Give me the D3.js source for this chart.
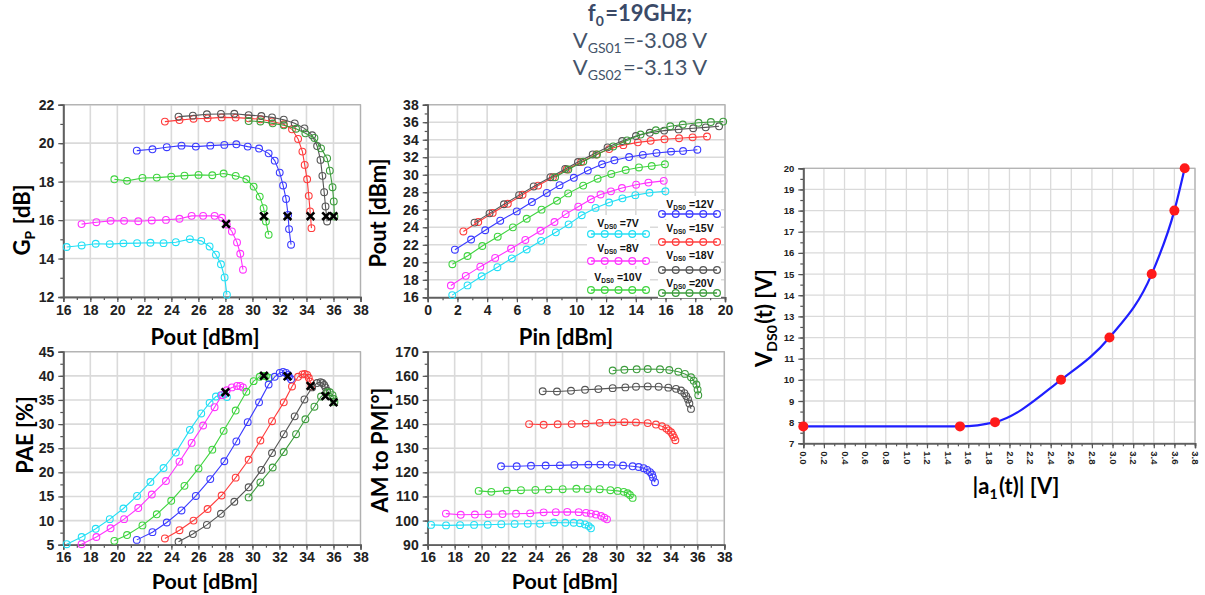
<!DOCTYPE html>
<html><head><meta charset="utf-8">
<script src="https://cdn.jsdelivr.net/npm/d3@7"></script>
<style>body{margin:0;background:#fff}svg{display:block}</style>
</head><body>
<script>
// ---------- data ----------
const vdsLabels = ["7V","8V","10V","12V","15V","18V","20V"];
const colors = ["#22dff5","#ff33ff","#3fd43f","#3b3bff","#ff3c3c","#555555","#3d9c3d"];

const pout = [
 [16.25,17.36,18.4,19.44,20.45,21.46,22.45,23.42,24.33,25.37,26.21,26.83,27.3,27.67,27.94,28.11],
 [17.35,18.45,19.5,20.5,21.55,22.55,23.6,24.6,25.5,26.35,27.2,27.75,28.1,28.48,28.86,29.1,29.3],
 [19.78,20.72,21.86,22.92,23.99,24.97,26.01,27.03,27.87,28.76,29.55,30.09,30.54,30.83,31.0,31.2],
 [21.44,22.6,23.66,24.75,25.81,26.88,27.92,28.81,29.65,30.49,31.2,31.65,32.02,32.27,32.49,32.64,32.71,32.86],
 [23.52,24.6,25.64,26.68,27.72,28.76,29.72,30.59,31.45,32.32,32.93,33.38,33.7,33.87,34.05,34.17,34.27,34.37],
 [24.53,25.59,26.63,27.67,28.66,29.72,30.66,31.45,32.32,33.13,33.85,34.42,34.79,35.04,35.18,35.31,35.41,35.53],
 [29.72,30.59,31.5,32.32,33.23,33.92,34.59,35.08,35.53,35.73,35.93,36.02,36.07]
];
const gp = [
 [14.6,14.68,14.77,14.75,14.79,14.8,14.82,14.8,14.85,15.01,14.92,14.63,14.2,13.7,13.02,12.12],
 [15.79,15.89,15.96,15.96,15.94,15.98,16.01,16.07,16.22,16.22,16.22,16.12,15.77,15.41,14.84,14.25,13.42],
 [18.12,18.04,18.19,18.21,18.26,18.31,18.35,18.33,18.42,18.3,18.12,17.74,17.22,16.62,15.93,15.24],
 [19.61,19.68,19.79,19.87,19.82,19.87,19.91,19.94,19.82,19.72,19.47,19.09,18.47,17.8,17.1,16.27,15.53,14.72],
 [21.12,21.2,21.27,21.29,21.34,21.33,21.29,21.24,21.13,20.98,20.72,20.22,19.56,18.87,18.12,17.26,16.45,15.58],
 [21.38,21.43,21.5,21.52,21.53,21.46,21.41,21.34,21.22,21.03,20.77,20.41,19.85,19.13,18.3,17.45,16.71,15.93],
 [21.15,21.13,21.03,20.93,20.75,20.51,20.27,19.73,19.21,18.57,17.71,16.97,16.19]
];
const pae = [
 [5.1,6.6,8.3,10.3,12.5,15.1,18.0,20.9,24.1,28.8,32.2,34.4,35.7,36.0,36.2,35.6],
 [5.1,6.6,8.4,10.3,12.6,15.4,18.2,22.2,26.1,29.7,33.5,36.0,37.0,37.6,37.9,37.9,37.6],
 [5.8,7.0,9.0,11.3,14.1,17.2,20.8,24.7,28.6,32.8,36.7,38.9,39.8,40.0,39.9,39.6],
 [6.0,7.6,9.6,12.1,15.1,18.6,22.3,26.4,30.4,34.5,38.2,39.8,40.6,40.8,40.6,40.2,39.8,39.3],
 [6.3,8.0,10.0,12.4,15.2,18.9,22.6,26.6,30.6,34.5,37.8,39.8,40.3,40.4,40.2,39.6,38.8,37.8],
 [5.6,7.2,9.1,11.4,13.9,16.9,20.5,24.0,27.9,31.6,35.1,37.6,38.5,38.7,38.5,38.1,37.6,36.9],
 [14.8,17.9,21.0,24.2,27.9,31.0,33.6,35.7,36.6,36.6,36.0,35.2,34.6]
];
const ampm = [
 [98.2,98.0,98.1,98.2,98.3,98.5,98.6,98.7,98.7,99.2,99.1,99.1,98.9,98.4,97.7,96.8],
 [102.9,102.4,102.5,102.6,102.7,102.8,103.0,103.4,103.5,103.6,103.5,103.2,102.9,102.5,101.9,101.2,100.5],
 [112.3,111.9,112.4,112.6,112.7,112.9,113.0,113.2,113.1,113.0,112.6,112.3,111.9,111.3,110.6,109.4],
 [122.5,122.5,122.7,122.8,122.9,123.1,123.2,123.2,123.1,122.8,122.5,122.2,121.7,121.0,120.1,119.1,117.9,115.9],
 [140.0,139.7,139.9,140.0,140.2,140.5,140.7,140.8,140.7,140.4,139.8,139.1,138.2,137.4,136.6,135.6,134.5,133.3],
 [153.6,153.5,153.8,154.2,154.5,154.9,155.2,155.5,155.6,155.5,155.1,154.6,153.9,152.8,151.6,150.2,148.5,146.3],
 [162.2,162.5,162.7,162.8,162.7,162.4,161.7,160.8,159.4,158.0,156.4,154.3,152.0]
];
const pin = [
 [1.65,2.68,3.63,4.69,5.66,6.66,7.63,8.62,9.48,10.36,11.29,12.2,13.1,13.97,14.92,15.99],
 [1.56,2.56,3.54,4.54,5.61,6.57,7.59,8.53,9.28,10.13,10.98,11.63,12.33,13.07,14.02,14.85,15.88],
 [1.66,2.68,3.67,4.71,5.73,6.66,7.66,8.7,9.45,10.46,11.43,12.35,13.32,14.21,15.07,15.96],
 [1.83,2.92,3.87,4.88,5.99,7.01,8.01,8.87,9.83,10.77,11.73,12.56,13.55,14.47,15.39,16.37,17.18,18.14],
 [2.4,3.4,4.37,5.39,6.38,7.43,8.43,9.35,10.32,11.34,12.21,13.16,14.14,15.0,15.93,16.91,17.82,18.79],
 [3.15,4.16,5.13,6.15,7.13,8.26,9.25,10.11,11.1,12.1,13.08,14.01,14.94,15.91,16.88,17.86,18.7,19.6],
 [8.57,9.46,10.47,11.39,12.48,13.41,14.32,15.35,16.32,17.16,18.22,19.05,19.88]
];
// "x" markers (optimum points)
const gpMarkX = [28.05,30.85,32.6,34.3,35.45,36.0];
const gpMarkY = [15.8,16.2,16.2,16.2,16.2,16.2];
const paeMarkX = [28.0,30.85,32.6,34.3,35.4,36.0];
const paeMarkY = [36.6,40.0,39.9,37.9,35.8,34.5];
// drain bias law
const a1Vals = [0.0,1.52,1.86,2.5,2.97,3.38,3.6,3.7];
const vdsVals = [7.8,7.8,8.0,10,12,15,18,20];

// tick values
const poutTicks = d3.range(16,39,2);
const pinTicks = d3.range(0,21,2);
const gpTicks = d3.range(12,23,2);
const poutYTicks = d3.range(16,39,2);
const paeTicks = d3.range(5,46,5);
const ampmTicks = d3.range(90,171,10);
const a1Ticks = d3.range(0,3.81,0.2);
const vdsTicks = d3.range(7,21,1);

// ---------- drawing ----------
const svg = d3.select("body").append("svg").attr("width",1205).attr("height",595)
  .style("font-family","'Liberation Sans',Arial,sans-serif");
const TF = "Lato, 'Open Sans', sans-serif";

function panel(o){
  const x = d3.scaleLinear().domain(o.xd).range(o.xr);
  const y = d3.scaleLinear().domain(o.yd).range(o.yr);
  const g = svg.append("g");
  const [x0,x1] = o.xr, [yb,yt] = o.yr;
  g.append("rect").attr("x",x0).attr("y",yt).attr("width",x1-x0).attr("height",yb-yt).attr("fill","#fff");
  g.selectAll(null).data(o.xgrid).join("line")
    .attr("x1",d=>x(d)).attr("x2",d=>x(d)).attr("y1",yb).attr("y2",yt)
    .attr("stroke","#dadada").attr("stroke-width",o.gw||1.6);
  g.selectAll(null).data(o.ygrid).join("line")
    .attr("y1",d=>y(d)).attr("y2",d=>y(d)).attr("x1",x0).attr("x2",x1)
    .attr("stroke","#dadada").attr("stroke-width",o.gw||1.6);
  g.append("rect").attr("x",x0).attr("y",yt).attr("width",x1-x0).attr("height",yb-yt)
    .attr("fill","none").attr("stroke","#b0b0b0").attr("stroke-width",1.2);
  const mx = g.append("g").attr("transform",`translate(0,${yb})`)
    .call(d3.axisBottom(x).tickValues(o.xminor).tickSize(3).tickFormat(""));
  const my = g.append("g").attr("transform",`translate(${x0},0)`)
    .call(d3.axisLeft(y).tickValues(o.yminor).tickSize(3).tickFormat(""));
  const ax = g.append("g").attr("transform",`translate(0,${yb})`)
    .call(d3.axisBottom(x).tickValues(o.xticks).tickSize(5).tickPadding(o.xpad||3).tickFormat(o.xfmt||d3.format("d")));
  const ay = g.append("g").attr("transform",`translate(${x0},0)`)
    .call(d3.axisLeft(y).tickValues(o.yticks).tickSize(5).tickPadding(4).tickFormat(o.yfmt||d3.format("d")));
  [mx,my,ax,ay].forEach(a=>{
    a.select(".domain").attr("stroke","#606060").attr("stroke-width",1.6);
    a.selectAll(".tick line").attr("stroke","#555").attr("stroke-width",1.2);
  });
  [ax,ay].forEach(a=>a.selectAll("text").attr("font-size",o.tfs||14).attr("font-weight","bold").attr("fill","#222")
     .attr("font-family","'Liberation Sans',Arial,sans-serif"));
  return {x,y,g,ax,ay};
}

function drawSeries(p, xs, ys){
  xs.forEach((xa,i)=>{
    const pts = xa.map((v,j)=>[v, ys[i][j]]);
    p.g.append("path").datum(pts)
      .attr("d", d3.line().x(d=>p.x(d[0])).y(d=>p.y(d[1])))
      .attr("fill","none").attr("stroke",colors[i]).attr("stroke-width",1.1);
    p.g.selectAll(null).data(pts).join("circle")
      .attr("cx",d=>p.x(d[0])).attr("cy",d=>p.y(d[1])).attr("r",3.4)
      .attr("fill","none").attr("stroke",colors[i]).attr("stroke-width",1.1);
  });
}
function drawMarks(p, mxs, mys){
  const pts = mxs.map((v,i)=>[v,mys[i]]);
  p.g.selectAll(null).data(pts).join("path")
    .attr("transform",d=>`translate(${p.x(d[0])},${p.y(d[1])})`)
    .attr("d","M-3.8,-3.8L3.8,3.8M-3.8,3.8L3.8,-3.8")
    .attr("stroke","#000").attr("stroke-width",2.6);
}
function title(x,y,parts,opt){
  const t = svg.append("text").attr("x",x).attr("y",y).attr("text-anchor","middle")
    .attr("font-family",TF).attr("font-weight",opt.bold?"bold":"normal")
    .attr("font-size",opt.fs).attr("fill",opt.fill||"#000");
  if(opt.rot) t.attr("transform",`rotate(-90,${x},${y})`);
  parts.forEach(pt=>{
    if(typeof pt==="string") t.append("tspan").text(pt);
    else { t.append("tspan").attr("font-size",pt.fs).attr("dy",pt.dy).text(pt.sub);
           t.append("tspan").attr("dy",-pt.dy).text("\u200a"); }
  });
  return t;
}

// Panel 1: GP vs Pout
const p1 = panel({xd:[16,38],xr:[63.3,360.5],yd:[12,22],yr:[297,104.7],
  xticks:poutTicks,yticks:gpTicks,xgrid:poutTicks,ygrid:gpTicks,
  xminor:d3.range(16,38.1,1),yminor:d3.range(12,22.1,1)});
drawSeries(p1, pout, gp);
drawMarks(p1, gpMarkX, gpMarkY);

// Panel 2: Pout vs Pin
const p2 = panel({xd:[0,20],xr:[427.7,725],yd:[16,38],yr:[297.3,104.7],
  xticks:pinTicks,yticks:poutYTicks,xgrid:pinTicks,ygrid:poutYTicks,
  xminor:d3.range(0,20.1,1),yminor:d3.range(16,38.1,1)});
drawSeries(p2, pin, pout);

// Panel 3: PAE vs Pout
const p3 = panel({xd:[16,38],xr:[63.3,360.5],yd:[5,45],yr:[544.7,351.7],
  xticks:poutTicks,yticks:paeTicks,xgrid:poutTicks,ygrid:paeTicks,
  xminor:d3.range(16,38.1,1),yminor:d3.range(5,45.1,2.5),xpad:2});
drawSeries(p3, pout, pae);
drawMarks(p3, paeMarkX, paeMarkY);

// Panel 4: AM/PM vs Pout
const p4 = panel({xd:[16,38],xr:[427.7,724.3],yd:[90,170],yr:[544.7,351.7],
  xticks:poutTicks,yticks:ampmTicks,xgrid:poutTicks,ygrid:ampmTicks,
  xminor:d3.range(16,38.1,1),yminor:d3.range(90,170.1,5),xpad:2});
drawSeries(p4, pout, ampm);

// Panel 5: VDS0 vs |a1|
const p5 = panel({xd:[0,3.8],xr:[803.3,1195],yd:[7,20],yr:[443.3,168.3],
  xticks:a1Ticks,yticks:vdsTicks,xgrid:a1Ticks,ygrid:vdsTicks,gw:1.3,
  xminor:d3.range(0,3.81,0.1),yminor:d3.range(7,20.01,0.5),
  xfmt:d3.format(".1f"),tfs:9.5,xpad:3});
p5.ax.selectAll(".tick text").attr("transform","rotate(90)").attr("text-anchor","start")
  .attr("dy","0.35em").attr("x",8).attr("y",0);
const bias = a1Vals.map((v,i)=>[v,vdsVals[i]]);
p5.g.append("path").datum(bias)
  .attr("d", d3.line().x(d=>p5.x(d[0])).y(d=>p5.y(d[1])).curve(d3.curveMonotoneX))
  .attr("fill","none").attr("stroke","#1f1fff").attr("stroke-width",2.2);
p5.g.selectAll(null).data(bias).join("circle")
  .attr("cx",d=>p5.x(d[0])).attr("cy",d=>p5.y(d[1])).attr("r",5)
  .attr("fill","#ff1a1a");

// Legend in panel 2
const legLayout = [
  {cx:618,ty:227,ly:234,x0:591,x1:646},{cx:618,ty:252,ly:261,x0:591,x1:646},{cx:618,ty:281,ly:290,x0:591,x1:646},
  {cx:690,ty:208,ly:214,x0:662,x1:717},{cx:690,ty:232,ly:242,x0:662,x1:717},{cx:690,ty:259,ly:270,x0:662,x1:717},{cx:690,ty:287,ly:293,x0:662,x1:717}
];
vdsLabels.forEach((lab,i)=>{
  const L = legLayout[i];
  svg.append("rect").attr("x",L.x0-4).attr("y",L.ty-12).attr("width",L.x1-L.x0+8).attr("height",L.ly-L.ty+17).attr("fill","#fff");
  const t = svg.append("text").attr("x",L.cx).attr("y",L.ty).attr("text-anchor","middle")
    .attr("font-size",10.5).attr("font-weight","bold").attr("fill","#111");
  t.append("tspan").text("V");
  t.append("tspan").attr("font-size",6.5).attr("dy",2).text("DS0");
  t.append("tspan").attr("dy",-2).text(" =" + lab);
  svg.append("line").attr("x1",L.x0).attr("x2",L.x1).attr("y1",L.ly).attr("y2",L.ly)
    .attr("stroke",colors[i]).attr("stroke-width",1.3);
  svg.selectAll(null).data(d3.range(5)).join("circle")
    .attr("cx",k=>L.x0+k*(L.x1-L.x0)/4).attr("cy",L.ly).attr("r",3.4)
    .attr("fill","none").attr("stroke",colors[i]).attr("stroke-width",1.2);
});

// axis titles
title(205,345,["Pout [dBm]"],{bold:true,fs:22});
title(566,345,["Pin [dBm]"],{bold:true,fs:22});
title(205,589,["Pout [dBm]"],{bold:true,fs:21.5});
title(565,589,["Pout [dBm]"],{bold:true,fs:21.5});
title(30,220,["G",{sub:"P",fs:14,dy:5}," [dB]"],{bold:true,fs:22,rot:true});
title(386,213,["Pout [dBm]"],{bold:true,fs:22,rot:true});
title(33,435,["PAE [%]"],{bold:true,fs:22,rot:true});
title(388,450,["AM to PM[°]"],{bold:true,fs:22,rot:true});
title(772,318,["V",{sub:"DS0",fs:14,dy:5},"(t) [V]"],{bold:true,fs:22,rot:true});
title(1016,494,["|a",{sub:"1",fs:14,dy:5},"(t)|  [V]"],{bold:true,fs:22});

// header
title(640,21,["f",{sub:"0",fs:14,dy:5},"=19GHz;"],{bold:true,fs:22,fill:"#3b4a68"});
title(640,48,["V",{sub:"GS01",fs:14,dy:5},"=-3.08 V"],{fs:22,fill:"#44546a"});
title(640,75,["V",{sub:"GS02",fs:14,dy:5},"=-3.13 V"],{fs:22,fill:"#44546a"});
</script>
</body></html>
